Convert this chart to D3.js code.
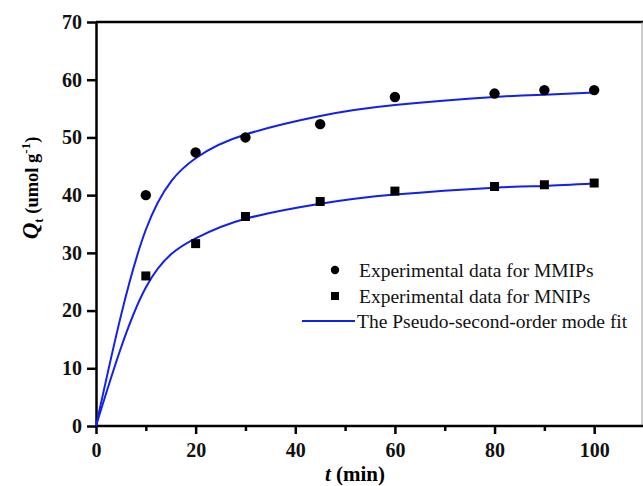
<!DOCTYPE html>
<html>
<head>
<meta charset="utf-8">
<script src="https://cdn.jsdelivr.net/npm/d3@7"></script>
<style>
  body { margin: 0; background: #fff; }
  svg { display: block; font-family: "Liberation Serif", "Times New Roman", serif; }
  .axis path, .axis line { stroke: #000; stroke-width: 2.5; }
</style>
</head>
<body>
<svg id="chart" width="643" height="486"></svg>
<script>
// experimental points
var times = [10, 20, 30, 45, 60, 80, 90, 100];
var mmips = [40.0, 47.4, 50.0, 52.3, 57.0, 57.6, 58.2, 58.2];
var mnips = [26.0, 31.6, 36.3, 38.9, 40.7, 41.5, 41.8, 42.1];

// fitted curves at the sampling times
var fitTimes = [0, 10, 20, 30, 45, 60, 80, 90, 100];
var fitMmips = [0, 34.0, 46.4, 50.5, 53.7, 55.6, 57.0, 57.4, 57.8];
var fitMnips = [0, 24.0, 32.5, 35.9, 38.5, 40.1, 41.3, 41.6, 42.0];

var xTicks = [0, 20, 40, 60, 80, 100];
var xMinor = [10, 30, 50, 70, 90];
var yTicks = [0, 10, 20, 30, 40, 50, 60, 70];

var legendLabels = ["Experimental data for MMIPs", "Experimental data for MNIPs", "The Pseudo-second-order mode fit"];

var svg = d3.select("#chart");
var blue = "#1020f0";
var serif = "'Liberation Serif', 'Times New Roman', serif";

var x = d3.scaleLinear().domain([0, 110]).range([96, 644]);
var y = d3.scaleLinear().domain([0, 70]).range([426, 22]);

function styleTicks(g) {
  g.attr("font-family", serif).attr("font-size", 20);
  g.selectAll("text")
    .style("font-family", serif)
    .style("font-size", "20px")
    .style("font-weight", "bold")
    .attr("fill", "#111");
}

// frame top + right
svg.append("line")
  .attr("x1", 96).attr("x2", 643).attr("y1", y(70)).attr("y2", y(70))
  .attr("stroke", "#000").attr("stroke-width", 2.5);
svg.append("line")
  .attr("x1", 642).attr("x2", 642).attr("y1", y(70)).attr("y2", y(0))
  .attr("stroke", "#999").attr("stroke-width", 1);

// minor x ticks
svg.append("g")
  .attr("class", "axis")
  .attr("transform", "translate(0," + y(0) + ")")
  .call(d3.axisBottom(x).tickValues(xMinor).tickSize(5).tickFormat(""))
  .select(".domain").remove();

svg.append("g")
  .attr("class", "axis")
  .attr("transform", "translate(0," + y(0) + ")")
  .call(d3.axisBottom(x).tickValues(xTicks).tickSize(8).tickPadding(9).tickSizeOuter(0))
  .call(styleTicks)
  .select(".domain").attr("d", "M96,0H643");

svg.append("g")
  .attr("class", "axis")
  .attr("transform", "translate(96,0)")
  .call(d3.axisLeft(y).tickValues(yTicks).tickSize(9).tickPadding(5).tickSizeOuter(0))
  .call(styleTicks);

// fit lines
var line = d3.line()
  .x(function (d) { return x(d[0]); })
  .y(function (d) { return y(d[1]); })
  .curve(d3.curveNatural);

[fitMmips, fitMnips].forEach(function (vals) {
  svg.append("path")
    .attr("d", line(fitTimes.map(function (t, i) { return [t, vals[i]]; })))
    .attr("fill", "none")
    .attr("stroke", blue)
    .attr("stroke-width", 2);
});

// points
svg.append("g").selectAll("circle")
  .data(times)
  .join("circle")
  .attr("cx", function (d) { return x(d); })
  .attr("cy", function (d, i) { return y(mmips[i]); })
  .attr("r", 5.2)
  .attr("fill", "#000");

svg.append("g").selectAll("rect")
  .data(times)
  .join("rect")
  .attr("x", function (d) { return x(d) - 4.5; })
  .attr("y", function (d, i) { return y(mnips[i]) - 4.5; })
  .attr("width", 9)
  .attr("height", 9)
  .attr("fill", "#000");

// legend
var lg = svg.append("g").attr("font-size", "19.5px").attr("fill", "#111");
var rows = [270, 296, 321];
lg.append("circle").attr("cx", 335).attr("cy", rows[0]).attr("r", 4.2).attr("fill", "#000");
lg.append("rect").attr("x", 331).attr("y", rows[1] - 4).attr("width", 8).attr("height", 8).attr("fill", "#000");
lg.append("line").attr("x1", 302).attr("x2", 355).attr("y1", rows[2]).attr("y2", rows[2])
  .attr("stroke", blue).attr("stroke-width", 2);
legendLabels.forEach(function (s, i) {
  lg.append("text")
    .attr("x", i < 2 ? 359 : 357)
    .attr("y", rows[i] + 7)
    .text(s);
});

// x title
var xt = svg.append("text")
  .attr("x", 355).attr("y", 481)
  .attr("text-anchor", "middle")
  .attr("font-size", "21px").attr("font-weight", "bold");
xt.append("tspan").attr("font-style", "italic").text("t");
xt.append("tspan").text(" (min)");

// y title
var yt = svg.append("text")
  .attr("transform", "translate(38,188) rotate(-90)")
  .attr("text-anchor", "middle")
  .attr("font-size", "18.5px").attr("font-weight", "bold");
yt.append("tspan").attr("font-style", "italic").attr("font-size", "23px").text("Q");
yt.append("tspan").attr("font-size", "13px").attr("dy", 5).text("t");
yt.append("tspan").attr("dy", -5).text(" (umol g");
yt.append("tspan").attr("font-size", "13px").attr("dy", -8).text("-1");
yt.append("tspan").attr("dy", 8).text(")");
</script>
</body>
</html>
